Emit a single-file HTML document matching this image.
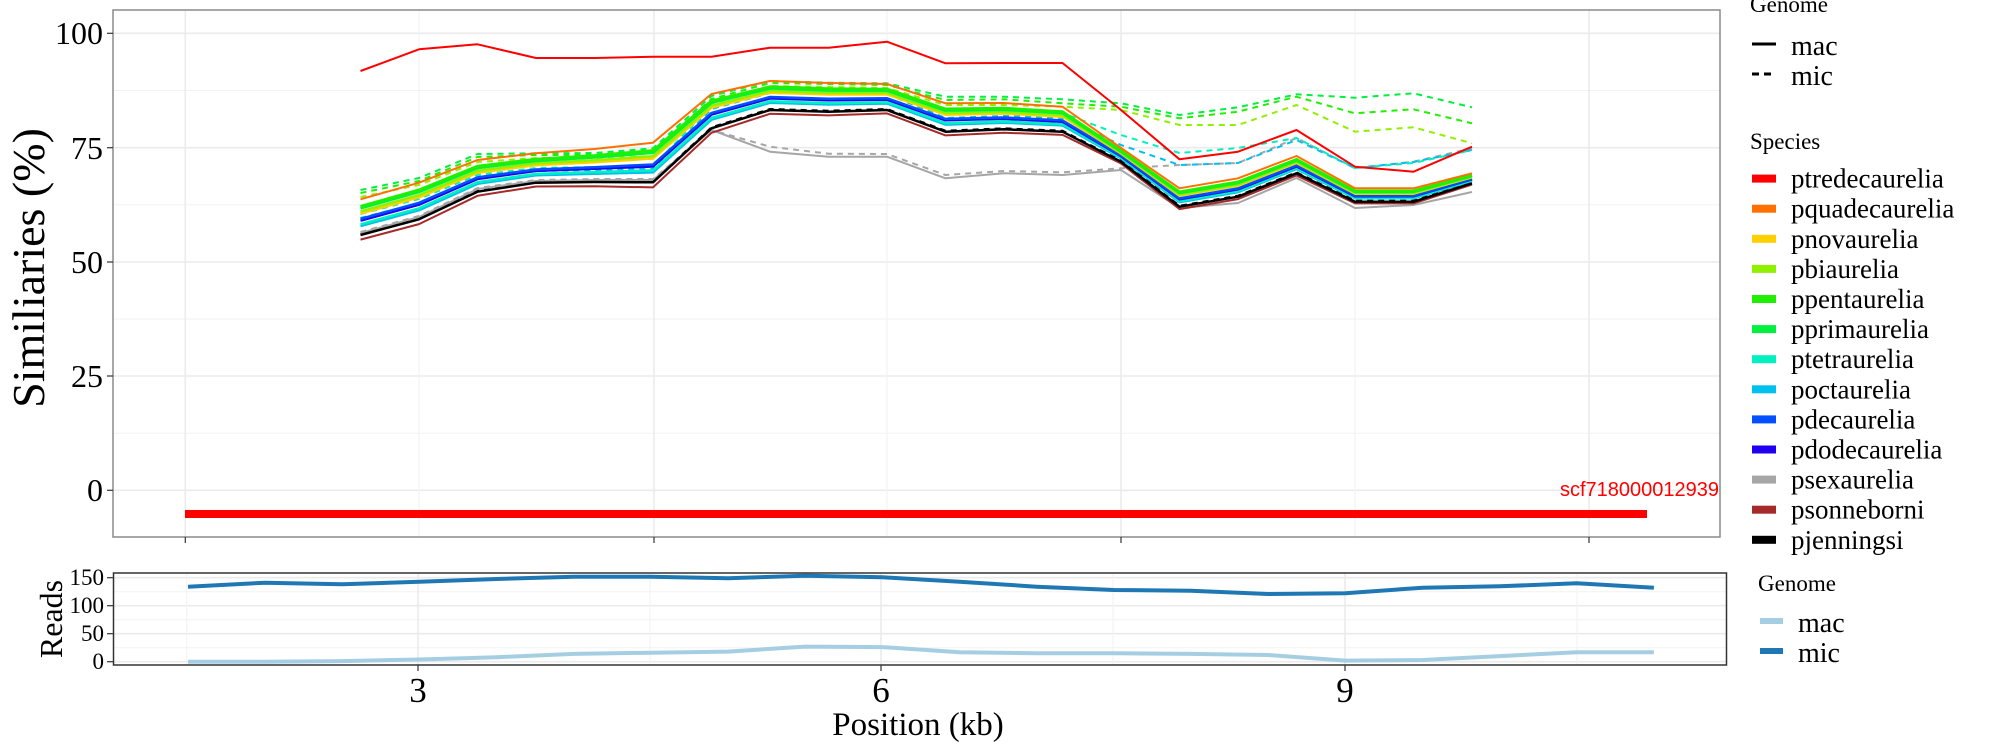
<!DOCTYPE html>
<html><head><meta charset="utf-8">
<style>
html,body{margin:0;padding:0;background:#fff;}
svg{display:block;font-family:"Liberation Serif",serif;}
</style></head>
<body>
<svg id="s" width="2000" height="750" viewBox="0 0 2000 750" xmlns="http://www.w3.org/2000/svg">
<rect x="0" y="0" width="2000" height="750" fill="#fff"/>
<g id="grid"></g>
<g id="data"></g>
<rect x="113" y="10" width="1607" height="527" fill="none" stroke="#8a8a8a" stroke-width="1.5"/>
<rect x="113.5" y="573" width="1613" height="92" fill="none" stroke="#333" stroke-width="1.5"/>
<line x1="185" y1="514" x2="1647" y2="514" stroke="#ff0000" stroke-width="8"/>
<text x="1719" y="496" font-family="Liberation Sans, sans-serif" font-size="20" fill="#ff0000" text-anchor="end">scf718000012939</text>
<g font-size="32" text-anchor="end" fill="#000">
<text x="103" y="44">100</text>
<text x="103" y="159">75</text>
<text x="103" y="273">50</text>
<text x="103" y="387">25</text>
<text x="103" y="501">0</text>
</g>
<g stroke="#333" stroke-width="1.2">
<line x1="107" y1="33.3" x2="113" y2="33.3"/><line x1="107" y1="147.7" x2="113" y2="147.7"/>
<line x1="107" y1="262" x2="113" y2="262"/><line x1="107" y1="376" x2="113" y2="376"/>
<line x1="107" y1="490.3" x2="113" y2="490.3"/>
<line x1="185.3" y1="537" x2="185.3" y2="543"/><line x1="654" y1="537" x2="654" y2="543"/>
<line x1="1121" y1="537" x2="1121" y2="543"/><line x1="1589" y1="537" x2="1589" y2="543"/>
<line x1="107" y1="577.7" x2="113" y2="577.7"/><line x1="107" y1="605.7" x2="113" y2="605.7"/>
<line x1="107" y1="633.7" x2="113" y2="633.7"/><line x1="107" y1="661.7" x2="113" y2="661.7"/>
<line x1="418" y1="665" x2="418" y2="671"/><line x1="881" y1="665" x2="881" y2="671"/><line x1="1345" y1="665" x2="1345" y2="671"/>
</g>
<text transform="translate(44,268) rotate(-90)" font-size="46" text-anchor="middle">Similiaries (%)</text>
<g font-size="23" text-anchor="end">
<text x="104" y="585">150</text><text x="104" y="613">100</text><text x="104" y="641">50</text><text x="104" y="669">0</text>
</g>
<text transform="translate(62,619) rotate(-90)" font-size="32" text-anchor="middle">Reads</text>
<g font-size="35" text-anchor="middle">
<text x="418" y="702">3</text><text x="881" y="702">6</text><text x="1345" y="702">9</text>
</g>
<text x="918" y="735" font-size="33" text-anchor="middle">Position (kb)</text>
<g font-size="23">
<text x="1750" y="12">Genome</text>
<line x1="1752" y1="44" x2="1776" y2="44" stroke="#000" stroke-width="3"/>
<text x="1791" y="55" font-size="28">mac</text>
<line x1="1752" y1="74" x2="1776" y2="74" stroke="#000" stroke-width="3" stroke-dasharray="7,5"/>
<text x="1791" y="85" font-size="28">mic</text>
<text x="1750" y="149">Species</text>
</g>
<g id="leg" font-size="27"></g>
<g font-size="23">
<text x="1758" y="591">Genome</text>
<rect x="1760" y="618" width="23" height="6" fill="#a6cee3"/>
<text x="1798" y="632" font-size="28">mac</text>
<rect x="1760" y="648" width="23" height="6" fill="#1f78b4"/>
<text x="1798" y="662" font-size="28">mic</text>
</g>
</svg>
<script>
var NS="http://www.w3.org/2000/svg";
function el(p,tag,a){var e=document.createElementNS(NS,tag);for(var k in a)e.setAttribute(k,a[k]);p.appendChild(e);return e;}
var G=document.getElementById('grid'),D=document.getElementById('data'),L=document.getElementById('leg');
[33.3,147.7,262,376,490.3].forEach(function(y){el(G,'line',{x1:113,x2:1720,y1:y,y2:y,stroke:'#ebebeb','stroke-width':1.6});});
[90.5,204.8,319,433.2].forEach(function(y){el(G,'line',{x1:113,x2:1720,y1:y,y2:y,stroke:'#f2f2f2','stroke-width':1});});
[185.3,654,1121,1589].forEach(function(x){el(G,'line',{x1:x,x2:x,y1:10,y2:537,stroke:'#ebebeb','stroke-width':1.6});});
[419,887,1355].forEach(function(x){el(G,'line',{x1:x,x2:x,y1:10,y2:537,stroke:'#f2f2f2','stroke-width':1});});
[577.7,605.7,633.7,661.7].forEach(function(y){el(G,'line',{x1:113,x2:1727,y1:y,y2:y,stroke:'#ebebeb','stroke-width':1.6});});
[591.7,619.7,647.7].forEach(function(y){el(G,'line',{x1:113,x2:1727,y1:y,y2:y,stroke:'#f2f2f2','stroke-width':1});});
[418,881,1345].forEach(function(x){el(G,'line',{x1:x,x2:x,y1:573,y2:665,stroke:'#ebebeb','stroke-width':1.6});});
[186.7,650,1113,1577].forEach(function(x){el(G,'line',{x1:x,x2:x,y1:573,y2:665,stroke:'#f2f2f2','stroke-width':1});});

var X=[];for(var i=0;i<20;i++)X.push(360.5+58.5*i);
var B=[235,219.3,191.7,182.7,182,182.3,128.3,110,111.7,110,131.7,129.3,131.7,161.7,206.7,196.7,173.3,201.7,201.7,183.3];
var O=[199.3,182.7,160,153.3,149,142.7,94,81,83,84,103.3,103,106.7,148,188.3,178.3,156,188.3,188.3,173.3];
var R=[71,49.3,44.3,58,58,56.7,56.7,47.7,47.7,41.7,63.3,63,63,110,159.3,151.7,130,166.7,171.7,146.7];
function mix(f){return B.map(function(b,i){return b+f*(O[i]-b);});}
function line(ys,col,dash,w){
  var pts=ys.map(function(y,i){return X[i].toFixed(1)+','+y.toFixed(1);}).join(' ');
  var a={points:pts,fill:'none',stroke:col,'stroke-width':w||2,'stroke-linejoin':'round'};
  if(dash)a['stroke-dasharray']='6,5';
  el(D,'polyline',a);
}
var greyMac=[233,217,189,181,180,180,130,151.7,156.7,156.7,178.3,173.3,175,170,208,203,178,208,205,192];
var greyMic=[232,216,188,180,179,179,130,146.7,153.7,154,175,171,172.3,168.3,165,163,138,168.3,161.7,148.3];
var primMic=[190,178,154,153.3,153,148.3,96,81,82.7,83.3,96.7,96.7,99.3,103.3,115,107.3,94.3,97.7,93.3,107.3];
var pentMic=[193,181,157,155,155,151,99,83,84,85,100,99.3,103.3,106.7,118.3,111.7,96.7,113.3,109.3,123.3];
var biMic=[197,185,162,158,158,156,104,86,87,88,105,105,106.7,110,125,125,105,131.7,127.3,143.3];
var tetMic=[214,199,175,168,167,166,106,90,91,91,112,110,113,135,153,148,138,168,163,150];
var octMic=[218,203,179,171,170,169,109,93,94,94,118,116,118,145,165,163,140,168,162,150];
line(greyMic,'#a6a6a6',true);
line(B.map(function(b){return b-1;}),'#000',true);
line(octMic,'#00c0f0',true);
line(tetMic,'#00f0c0',true);
line(biMic,'#90f000',true);
line(pentMic,'#20f000',true);
line(primMic,'#00f040',true);
line(greyMac,'#a6a6a6');
line(mix(-0.13),'#a52a2a');
line(mix(0.25),'#00c0f0',false,2.5);
line(mix(0.3),'#00f0c0',false,2.5);
line(mix(0.4),'#2000f0',false,2.5);
line(mix(0.45),'#0050ff',false,2.5);
line(B,'#000',false,2.5);
line(mix(0.6),'#ffd000',false,2.5);
line(mix(0.66),'#90f000',false,2.5);
line(mix(0.75),'#00f040',false,3);
line(mix(0.8),'#20f000',false,3);
line(O,'#ff7000');
line(R,'#ff0000');
var XB=[];for(var j=0;j<20;j++)XB.push(188+77.15*j);
var mic=[586.7,582.7,584.3,581.7,579,576.7,576.7,578.3,575.7,577.3,581.7,586.7,590,590.7,594,593.3,587.7,586.3,583.3,587.7];
var macv=[0,0,1,4,8,14,16,18,27,26,17,15,15,14,12,2,3,10,17,17];
function rl(ys,col){el(D,'polyline',{points:ys.map(function(y,i){return XB[i].toFixed(1)+','+y.toFixed(1);}).join(' '),fill:'none',stroke:col,'stroke-width':4,'stroke-linejoin':'round'});}
rl(macv.map(function(v){return 661.7-v*0.56;}),'#a6cee3');
rl(mic,'#1f78b4');
var sp=[['ptredecaurelia','#ff0000'],['pquadecaurelia','#ff7000'],['pnovaurelia','#ffd000'],['pbiaurelia','#90f000'],['ppentaurelia','#20f000'],['pprimaurelia','#00f040'],['ptetraurelia','#00f0c0'],['poctaurelia','#00c0f0'],['pdecaurelia','#0050ff'],['pdodecaurelia','#2000f0'],['psexaurelia','#a6a6a6'],['psonneborni','#a52a2a'],['pjenningsi','#000000']];
sp.forEach(function(s,k){var y=178.6+30.1*k;
  el(L,'rect',{x:1752,y:y-4,width:24,height:8,fill:s[1]});
  var t=el(L,'text',{x:1791,y:y+9});t.textContent=s[0];});
</script>
</body></html>
